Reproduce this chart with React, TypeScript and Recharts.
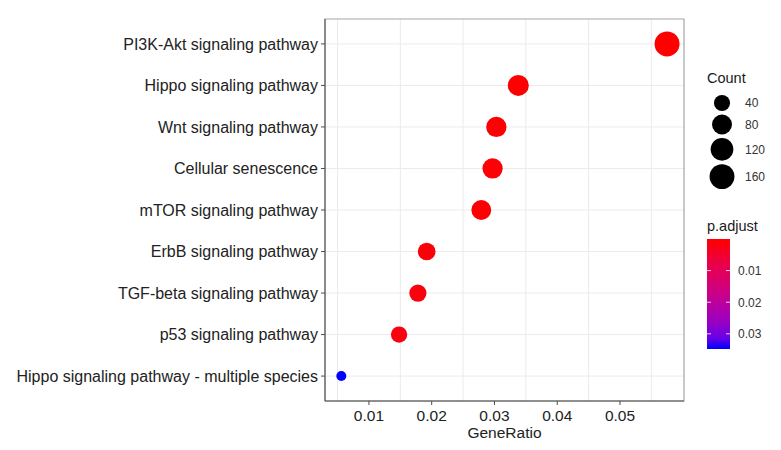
import React from "react"
import { ScatterChart, Scatter, XAxis, YAxis, CartesianGrid, ReferenceArea, Label } from "recharts"

const categories = [
  "PI3K-Akt signaling pathway",
  "Hippo signaling pathway",
  "Wnt signaling pathway",
  "Cellular senescence",
  "mTOR signaling pathway",
  "ErbB signaling pathway",
  "TGF-beta signaling pathway",
  "p53 signaling pathway",
  "Hippo signaling pathway - multiple species",
]
const geneRatio = [0.0575, 0.0338, 0.0303, 0.0297, 0.0279, 0.0192, 0.0178, 0.0148, 0.0056]
const counts = [162, 95, 85, 84, 79, 54, 50, 42, 16]
const pAdjust = [0.00001, 0.0002, 0.0004, 0.0005, 0.0004, 0.0011, 0.0014, 0.0017, 0.0348]

const xTicks = [0.01, 0.02, 0.03, 0.04, 0.05]
const xGrid = [0.005, 0.01, 0.015, 0.02, 0.025, 0.03, 0.035, 0.04, 0.045, 0.05, 0.055]
const countBreaks = [40, 80, 120, 160]
const pBreaks = [0.01, 0.02, 0.03]

const FONT = "'Liberation Sans', Arial, Helvetica, sans-serif"
const X_DOMAIN: [number, number] = [0.003, 0.0602]
const Y_DOMAIN: [number, number] = [-0.6, categories.length - 0.4]

const data = categories.map((name, i) => ({
  name,
  idx: i,
  geneRatio: geneRatio[i],
  count: counts[i],
  p: pAdjust[i],
}))

// size scale: radius ~ sqrt of rescaled count (like ggplot's area palette)
const cMin = Math.min(...counts)
const cMax = Math.max(...counts)
const radiusOf = (c: number) => 5 + 7.5 * Math.sqrt(Math.max(0, c - cMin) / (cMax - cMin))

// colour scale: red (low p) -> blue (high p), stops approximating Lab interpolation
const pMin = Math.min(...pAdjust)
const pMax = Math.max(...pAdjust)
const stops: Array<[number, number[]]> = [
  [0, [255, 0, 0]],
  [0.25, [232, 0, 80]],
  [0.5, [202, 0, 137]],
  [0.75, [154, 0, 195]],
  [0.9, [104, 0, 231]],
  [1, [0, 0, 255]],
]
const colorAt = (t: number) => {
  const tt = Math.min(1, Math.max(0, t))
  for (let i = 1; i < stops.length; i++) {
    const [t1, c1] = stops[i]
    const [t0, c0] = stops[i - 1]
    if (tt <= t1) {
      const f = (tt - t0) / (t1 - t0)
      const c = c0.map((v, k) => Math.round(v + (c1[k] - v) * f))
      return `rgb(${c[0]},${c[1]},${c[2]})`
    }
  }
  return "rgb(0,0,255)"
}
const colorOf = (p: number) => colorAt((p - pMin) / (pMax - pMin))

function Dot(props: any) {
  const { cx, cy, payload } = props
  if (cx == null || cy == null) return null
  return <circle cx={cx} cy={cy} r={radiusOf(payload.count)} fill={colorOf(payload.p)} />
}

function Legends() {
  const keyX = 722
  let y = 103
  const keys = countBreaks.map((b, i) => {
    if (i > 0) y += radiusOf(countBreaks[i - 1]) + radiusOf(b) + 3.5
    return { b, cy: y }
  })
  const barX = 707
  const barY = 239
  const barW = 23
  const barH = 110
  const yOfP = (p: number) => barY + ((p - pMin) / (pMax - pMin)) * barH
  return (
    <svg width={781} height={450} style={{ position: "absolute", left: 0, top: 0, pointerEvents: "none" }}>
      <defs>
        <linearGradient id="padj" x1="0" y1="0" x2="0" y2="1">
          {stops.map(([t, c]) => (
            <stop key={t} offset={t} stopColor={`rgb(${c[0]},${c[1]},${c[2]})`} />
          ))}
        </linearGradient>
      </defs>
      <text x={707} y={83} fontSize={14.5} fontFamily={FONT} fill="#1a1a1a">Count</text>
      {keys.map(k => (
        <g key={k.b}>
          <circle cx={keyX} cy={k.cy} r={radiusOf(k.b)} fill="#000" />
          <text x={745} y={k.cy} dy="0.36em" fontSize={12} fontFamily={FONT} fill="#333">{k.b}</text>
        </g>
      ))}
      <text x={707} y={231} fontSize={14.5} fontFamily={FONT} fill="#1a1a1a">p.adjust</text>
      <rect x={barX} y={barY} width={barW} height={barH} fill="url(#padj)" />
      {pBreaks.map(b => (
        <g key={b}>
          <line x1={barX} x2={barX + 4} y1={yOfP(b)} y2={yOfP(b)} stroke="#fff" strokeWidth={1} opacity={0.8} />
          <line x1={barX + barW - 4} x2={barX + barW} y1={yOfP(b)} y2={yOfP(b)} stroke="#fff" strokeWidth={1} opacity={0.8} />
          <text x={738} y={yOfP(b)} dy="0.36em" fontSize={12} fontFamily={FONT} fill="#333">{b.toFixed(2)}</text>
        </g>
      ))}
    </svg>
  )
}

export default function App() {
  const yTickStyle = { fontSize: 16, fill: "#222", fontFamily: FONT }
  const xTickStyle = { fontSize: 15.5, fill: "#222", fontFamily: FONT }
  return (
    <div style={{ position: "absolute", left: 0, top: 0, width: 781, height: 450, background: "#fff" }}>
      <ScatterChart width={781} height={450} margin={{ top: 19, right: 97, bottom: 0, left: 0 }}>
        <CartesianGrid
          stroke="#EBEBEB"
          strokeWidth={1}
          verticalValues={xGrid}
          horizontalValues={categories.map((_, i) => i)}
        />
        <XAxis
          type="number"
          dataKey="geneRatio"
          domain={X_DOMAIN}
          allowDataOverflow
          ticks={xTicks}
          tickFormatter={(v: number) => v.toFixed(2)}
          height={49}
          tickSize={4}
          tickMargin={5}
          axisLine={{ stroke: "#4d4d4d" }}
          tickLine={{ stroke: "#4d4d4d" }}
          tick={xTickStyle}
        >
          <Label value="GeneRatio" position="insideBottom" offset={12} style={{ fontSize: 15.5, fill: "#222", fontFamily: FONT }} />
        </XAxis>
        <YAxis
          type="number"
          dataKey="idx"
          domain={Y_DOMAIN}
          allowDataOverflow
          reversed
          ticks={categories.map((_, i) => i)}
          interval={0}
          tickFormatter={(i: number) => categories[i] ?? ""}
          width={325}
          tickSize={4}
          tickMargin={3}
          axisLine={{ stroke: "#4d4d4d" }}
          tickLine={{ stroke: "#4d4d4d" }}
          tick={yTickStyle}
        />
        <ReferenceArea
          x1={X_DOMAIN[0]}
          x2={X_DOMAIN[1]}
          y1={Y_DOMAIN[0]}
          y2={Y_DOMAIN[1]}
          fill="none"
          stroke="#a6a6a6"
          strokeWidth={1.2}
        />
        <Scatter data={data} shape={<Dot />} isAnimationActive={false} />
      </ScatterChart>
      <Legends />
    </div>
  )
}
